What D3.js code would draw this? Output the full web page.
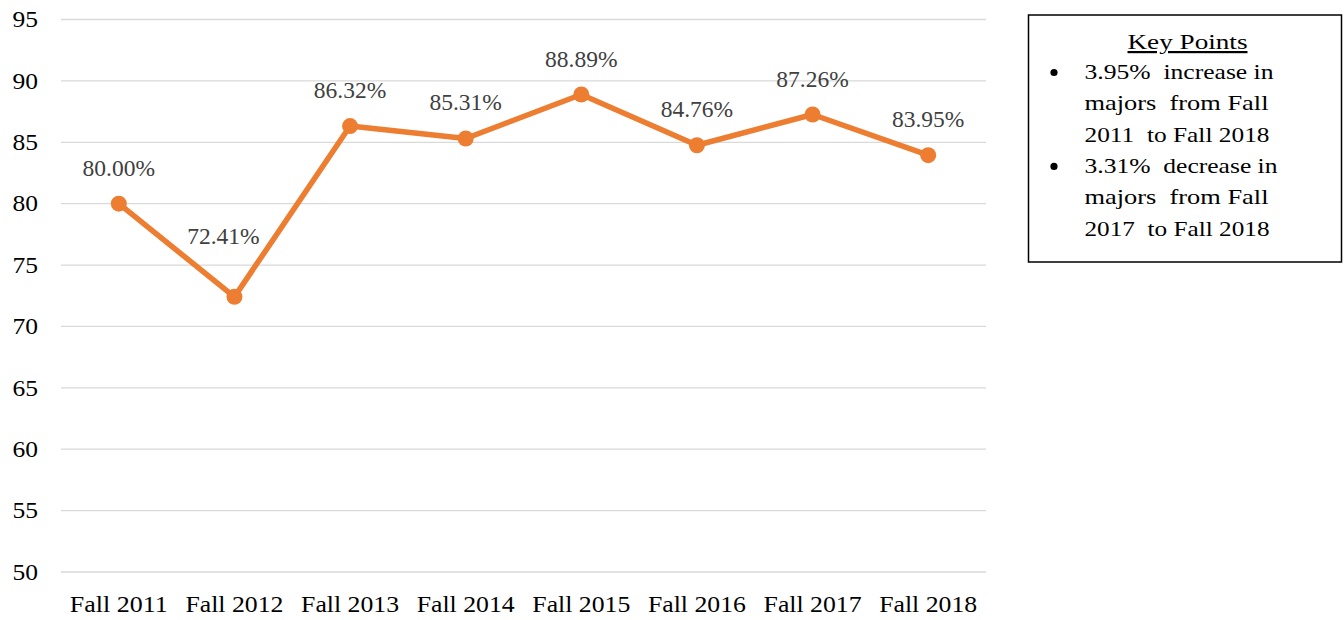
<!DOCTYPE html>
<html><head><meta charset="utf-8">
<script src="https://cdn.jsdelivr.net/npm/d3@7"></script>
<style>body{margin:0;background:#fff}</style>
</head><body>
<svg id="c" width="1344" height="620"></svg>
<script>
const categories = ["Fall 2011","Fall 2012","Fall 2013","Fall 2014","Fall 2015","Fall 2016","Fall 2017","Fall 2018"];
const values = [80.00,72.41,86.32,85.31,88.89,84.76,87.26,83.95];
const yTicks = [50,55,60,65,70,75,80,85,90,95];
const keyTitle = "Key Points";
const keyLines = [
  ["3.95%  increase in","majors  from Fall","2011  to Fall 2018"],
  ["3.31%  decrease in","majors  from Fall","2017  to Fall 2018"]
];

(function(){
const FONT = "Liberation Serif";
const svg = d3.select("#c");
const mLeft = 61, mRight = 986, mTop = 19.5, mBottom = 572;
const x = d3.scaleBand().domain(categories).range([mLeft, mRight]);
const y = d3.scaleLinear().domain([50,95]).range([mBottom, mTop]);

svg.append("g").selectAll("line").data(yTicks).join("line")
  .attr("x1", mLeft).attr("x2", mRight)
  .attr("y1", d=>y(d)).attr("y2", d=>y(d))
  .attr("stroke", "#d9d9d9").attr("stroke-width", 1.3);

const ya = svg.append("g").attr("transform", `translate(${mLeft},0)`)
  .call(d3.axisLeft(y).tickValues(yTicks).tickSize(0).tickPadding(23));
ya.select(".domain").remove();
ya.selectAll("text").style("font-family", FONT).style("font-size", "22.5px").attr("fill", "#000")
  .attr("textLength", 25.5).attr("lengthAdjust","spacingAndGlyphs");

const xa = svg.append("g").attr("transform", `translate(0,${mBottom})`)
  .call(d3.axisBottom(x).tickSize(0).tickPadding(24));
xa.select(".domain").remove();
xa.selectAll("text").style("font-family", FONT).style("font-size", "22.5px").attr("fill", "#000")
  .attr("textLength", 98).attr("lengthAdjust","spacingAndGlyphs");

const cx = d => x(d) + x.bandwidth()/2;
const line = d3.line().x((d,i)=>cx(categories[i])).y(d=>y(d));
svg.append("path").datum(values).attr("d", line)
  .attr("fill","none").attr("stroke","#ED7D31").attr("stroke-width",5.5).attr("stroke-linejoin","round");
svg.append("g").selectAll("circle").data(values).join("circle")
  .attr("cx",(d,i)=>cx(categories[i])).attr("cy",d=>y(d)).attr("r",8).attr("fill","#ED7D31");
// labels above each point; the dip (lowest value) label sits up-left of the line
const dipIndex = values.indexOf(d3.min(values));
svg.append("g").selectAll("text").data(values).join("text")
  .attr("x",(d,i)=>cx(categories[i]) + (i===dipIndex ? -11 : 0))
  .attr("y",(d,i)=>y(d) - (i===dipIndex ? 53 : 28))
  .attr("text-anchor","middle").style("font-family", FONT).style("font-size","23.5px").attr("fill","#404040")
  .text(d=>d.toFixed(2)+"%");

const kb = svg.append("g");
kb.append("rect").attr("x",1028.5).attr("y",15).attr("width",313).attr("height",247)
  .attr("fill","#fff").attr("stroke","#000").attr("stroke-width",1.5);
kb.append("text").attr("x",1127.5).attr("y",49)
  .style("font-family", FONT).style("font-size","22px").attr("text-decoration","underline")
  .attr("textLength",120).attr("lengthAdjust","spacingAndGlyphs").text(keyTitle);
const lineWidths = [189,184,185,193,184,185];
let ln = 0;
keyLines.forEach(group=>{
  kb.append("circle").attr("cx",1054).attr("cy",79+ln*31.3-6.5).attr("r",3.6).attr("fill","#000");
  group.forEach(t=>{
    kb.append("text").attr("x",1084.5).attr("y",79+ln*31.3)
      .style("font-family", FONT).style("font-size","22px").style("white-space","pre")
      .attr("textLength", lineWidths[ln]).attr("lengthAdjust","spacingAndGlyphs").text(t);
    ln++;
  });
});
})();
</script>
</body></html>
